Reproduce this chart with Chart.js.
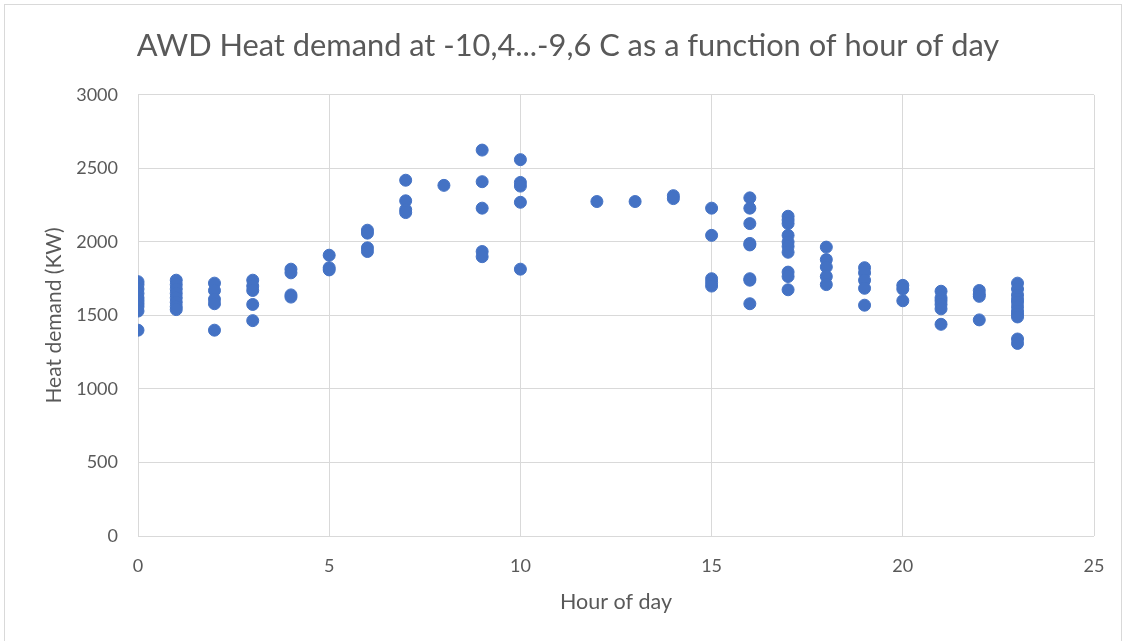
<!DOCTYPE html>
<html>
<head>
<meta charset="utf-8">
<script src="https://cdn.jsdelivr.net/npm/chart.js@4/dist/chart.umd.min.js"></script>
<style>
  html, body { margin: 0; padding: 0; background: #fff; }
  #wrap { position: absolute; left: 0; top: 0; width: 1126px; height: 641px; }
  #frame { position: absolute; left: 4px; top: 4px; width: 1118px; height: 640px; border: 1px solid #d9d9d9; box-sizing: border-box; pointer-events: none; }
</style>
</head>
<body>
<div id="wrap">
  <canvas id="chart" width="1126" height="641"></canvas>
  <div id="frame"></div>
</div>
<script>
// Stunden, fuer die Messwerte vorliegen
const hours = [0, 1, 2, 3, 4, 5, 6, 7, 8, 9, 10, 12, 13, 14, 15, 16, 17, 18, 19, 20, 21, 22, 23];

// Waermebedarf (KW) je Stunde
const demandByHour = [
    [1730, 1710, 1680, 1650, 1620, 1600, 1580, 1560, 1530, 1400],
    [1740, 1710, 1680, 1650, 1620, 1590, 1560, 1540],
    [1720, 1670, 1610, 1580, 1400],
    [1740, 1700, 1670, 1575, 1465],
    [1815, 1790, 1640, 1625],
    [1910, 1825, 1810],
    [2080, 2060, 1960, 1935],
    [2420, 2280, 2220, 2200],
    [2385],
    [2625, 2410, 2230, 1935, 1900],
    [2560, 2405, 2380, 2270, 1815],
    [2275],
    [2275],
    [2315, 2295],
    [2230, 2045, 1750, 1725, 1700],
    [2300, 2230, 2125, 1990, 1980, 1750, 1740, 1580],
    [2175, 2150, 2125, 2045, 2000, 1970, 1930, 1795, 1765, 1675],
    [1965, 1880, 1830, 1765, 1710],
    [1825, 1790, 1740, 1685, 1570],
    [1705, 1680, 1600],
    [1665, 1620, 1600, 1575, 1545, 1440],
    [1670, 1645, 1630, 1470],
    [1720, 1680, 1640, 1610, 1590, 1560, 1530, 1510, 1490, 1340, 1310]
];

const titleText = 'AWD Heat demand at -10,4...-9,6 C as a function of hour of day';
const xAxisLabel = 'Hour of day';
const yAxisLabel = 'Heat demand (KW)';

const points = [];
hours.forEach((h, i) => {
    demandByHour[i].forEach(v => points.push({ x: h, y: v }));
});

const fontFamily = 'Lato, "Open Sans", sans-serif';
const textColor = '#595959';
const gridColor = '#d9d9d9';

const ctx = document.getElementById('chart').getContext('2d');
new Chart(ctx, {
    type: 'scatter',
    data: {
        datasets: [{
            label: yAxisLabel,
            data: points,
            backgroundColor: '#4472c4',
            borderColor: '#4472c4',
            pointRadius: 6,
            pointHoverRadius: 6
        }]
    },
    options: {
        responsive: false,
        animation: false,
        layout: { padding: { left: 42, right: 32, top: 0, bottom: 26 } },
        plugins: {
            legend: { display: false },
            tooltip: { enabled: false },
            title: {
                display: true,
                text: titleText,
                color: textColor,
                font: { family: fontFamily, size: 30.8, weight: 'normal' },
                padding: { top: 28, bottom: 30 }
            }
        },
        scales: {
            x: {
                type: 'linear',
                min: 0,
                max: 25,
                ticks: {
                    stepSize: 5,
                    color: textColor,
                    font: { family: fontFamily, size: 18 },
                    padding: 19,
                    maxRotation: 0,
                    callback: v => String(v)
                },
                grid: { color: gridColor, drawTicks: false },
                border: { display: false },
                title: {
                    display: true,
                    text: xAxisLabel,
                    color: textColor,
                    font: { family: fontFamily, size: 21.5 },
                    padding: { top: 12, bottom: 0 }
                },
                afterFit: s => { s.height = 79; }
            },
            y: {
                min: 0,
                max: 3000,
                ticks: {
                    stepSize: 500,
                    color: textColor,
                    font: { family: fontFamily, size: 18 },
                    padding: 20,
                    callback: v => String(v)
                },
                grid: { color: gridColor, drawTicks: false },
                border: { display: false },
                title: {
                    display: true,
                    text: yAxisLabel,
                    color: textColor,
                    font: { family: fontFamily, size: 21 },
                    padding: { top: 0, bottom: 8 }
                },
                afterFit: s => { s.width = 96; }
            }
        }
    }
});
</script>
</body>
</html>
